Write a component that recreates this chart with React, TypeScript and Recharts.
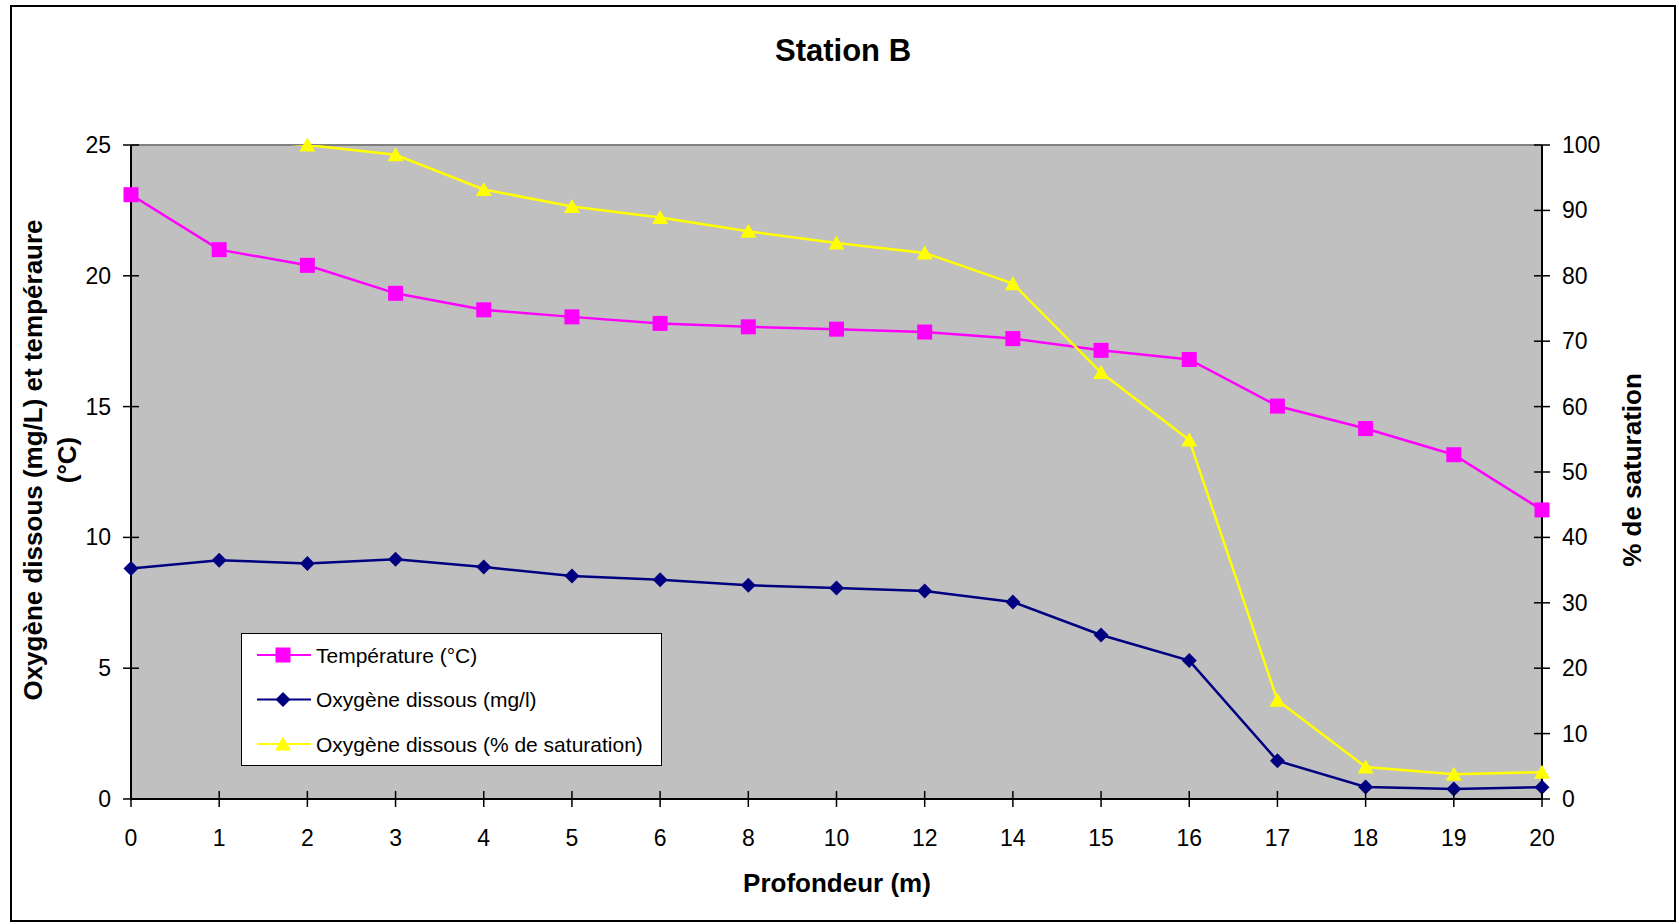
import { LineChart, Line, XAxis, YAxis, CartesianGrid, ReferenceLine, Legend } from "recharts"

const FONT = '"Liberation Sans", Arial, sans-serif'

const depths = ["0", "1", "2", "3", "4", "5", "6", "8", "10", "12", "14", "15", "16", "17", "18", "19", "20"]
const temperature = [23.1, 21.0, 20.4, 19.33, 18.7, 18.43, 18.18, 18.05, 17.96, 17.85, 17.6, 17.15, 16.8, 15.02, 14.16, 13.16, 11.05]
const oxygenMg = [8.81, 9.13, 9.0, 9.16, 8.87, 8.52, 8.38, 8.17, 8.07, 7.95, 7.53, 6.27, 5.29, 1.46, 0.46, 0.38, 0.45]
const oxygenSat = [103, 101, 100, 98.5, 93.2, 90.6, 88.9, 86.8, 85.0, 83.5, 78.8, 65.2, 54.9, 15.1, 4.9, 3.8, 4.1]

const leftTicks = [0, 5, 10, 15, 20, 25]
const rightTicks = [0, 10, 20, 30, 40, 50, 60, 70, 80, 90, 100]

const SERIES = [
  { key: "temp", name: "Température (°C)", color: "#FF00FF", marker: "square" },
  { key: "mg", name: "Oxygène dissous (mg/l)", color: "#000080", marker: "diamond" },
  { key: "sat", name: "Oxygène dissous (% de saturation)", color: "#FFFF00", marker: "triangle" },
]

const data = depths.map((depth, i) => ({
  depth,
  temp: temperature[i],
  mg: oxygenMg[i],
  sat: oxygenSat[i],
}))

const SAT_MAX = rightTicks[rightTicks.length - 1]

function Marker({ kind, cx, cy, color }: { kind: string; cx: number; cy: number; color: string }) {
  if (kind === "square") {
    return <rect x={cx - 7.5} y={cy - 7.5} width={15} height={15} fill={color} />
  }
  if (kind === "diamond") {
    return (
      <polygon
        points={`${cx},${cy - 7.5} ${cx + 7.5},${cy} ${cx},${cy + 7.5} ${cx - 7.5},${cy}`}
        fill={color}
      />
    )
  }
  return (
    <polygon
      points={`${cx},${cy - 7.5} ${cx + 8},${cy + 6.5} ${cx - 8},${cy + 6.5}`}
      fill={color}
    />
  )
}

function makeDot(kind: string, color: string, max?: number) {
  return (p: any) => {
    const key = `${kind}-${p.index}`
    if (p.cx == null || p.cy == null) return <g key={key} />
    if (max != null && p.value > max) return <g key={key} />
    return (
      <g key={key}>
        <Marker kind={kind} cx={p.cx} cy={p.cy} color={color} />
      </g>
    )
  }
}

function LeftTick(props: any) {
  const { x, y, payload } = props
  return (
    <g>
      <line x1={x - 8} x2={x + 8} y1={y} y2={y} stroke="#000" strokeWidth={1.5} />
      <text x={x - 20} y={y + 8} textAnchor="end" fontSize={23} fontFamily={FONT} fill="#000">
        {payload.value}
      </text>
    </g>
  )
}

function RightTick(props: any) {
  const { x, y, payload } = props
  return (
    <g>
      <line x1={x - 8} x2={x + 8} y1={y} y2={y} stroke="#000" strokeWidth={1.5} />
      <text x={x + 20} y={y + 8} textAnchor="start" fontSize={23} fontFamily={FONT} fill="#000">
        {payload.value}
      </text>
    </g>
  )
}

function BottomTick(props: any) {
  const { x, y, payload } = props
  return (
    <g>
      <line x1={x} x2={x} y1={y - 8} y2={y + 8} stroke="#000" strokeWidth={1.5} />
      <text x={x} y={y + 47} textAnchor="middle" fontSize={23} fontFamily={FONT} fill="#000">
        {payload.value}
      </text>
    </g>
  )
}

function LegendBox({ payload }: any) {
  const entries = SERIES.map((s) => ({
    s,
    entry: (payload || []).find((p: any) => p.dataKey === s.key),
  })).filter((e) => e.entry)
  return (
    <div
      style={{
        width: 421,
        height: 133,
        boxSizing: "border-box",
        background: "#fff",
        border: "1.5px solid #000",
      }}
    >
      <svg width={418} height={130} style={{ display: "block" }}>
        {entries.map(({ s, entry }, i) => {
          const y = 21 + i * 44.5
          return (
            <g key={s.key}>
              <line x1={15} x2={69} y1={y} y2={y} stroke={s.color} strokeWidth={2} />
              <Marker kind={s.marker} cx={41} cy={y} color={s.color} />
              <text x={74} y={y + 7.5} fontSize={21} fontFamily={FONT} fill="#000">
                {entry.value}
              </text>
            </g>
          )
        })}
      </svg>
    </div>
  )
}

export default function App() {
  return (
    <div style={{ position: "absolute", left: 0, top: 0, width: 1679, height: 924, background: "#fff" }}>
      <style>{`.recharts-line-dots { clip-path: none; }`}</style>
      <div
        style={{
          position: "absolute",
          left: 10,
          top: 5,
          width: 1666,
          height: 917,
          border: "2px solid #000",
          boxSizing: "border-box",
        }}
      />
      <div style={{ position: "absolute", left: 0, top: 0 }}>
        <LineChart width={1679} height={924} data={data} margin={{ top: 145, right: 0, bottom: 0, left: 0 }}>
          <CartesianGrid yAxisId="left" fill="#C0C0C0" vertical={false} horizontal={false} />
          <XAxis
            dataKey="depth"
            height={125}
            interval={0}
            tickSize={0}
            tickMargin={0}
            tickLine={false}
            tick={BottomTick}
            axisLine={{ stroke: "#000", strokeWidth: 2 }}
          />
          <YAxis
            yAxisId="left"
            orientation="left"
            width={131}
            domain={[0, 25]}
            ticks={leftTicks}
            tickSize={0}
            tickMargin={0}
            tickLine={false}
            tick={LeftTick}
            axisLine={{ stroke: "#000", strokeWidth: 2 }}
          />
          <YAxis
            yAxisId="right"
            orientation="right"
            width={137}
            domain={[0, SAT_MAX]}
            allowDataOverflow
            ticks={rightTicks}
            tickSize={0}
            tickMargin={0}
            tickLine={false}
            tick={RightTick}
            axisLine={{ stroke: "#000", strokeWidth: 2 }}
          />
          <ReferenceLine yAxisId="left" y={25} stroke="#808080" strokeWidth={2} />
          <Legend
            layout="horizontal"
            verticalAlign="middle"
            align="center"
            content={(props: any) => <LegendBox {...props} />}
            wrapperStyle={{ left: 241, top: 633, width: 421, height: 133 }}
          />
          <Line
            yAxisId="left"
            type="linear"
            dataKey="temp"
            name={SERIES[0].name}
            stroke={SERIES[0].color}
            strokeWidth={2.5}
            dot={makeDot("square", SERIES[0].color)}
            activeDot={false}
            isAnimationActive={false}
          />
          <Line
            yAxisId="left"
            type="linear"
            dataKey="mg"
            name={SERIES[1].name}
            stroke={SERIES[1].color}
            strokeWidth={2.5}
            dot={makeDot("diamond", SERIES[1].color)}
            activeDot={false}
            isAnimationActive={false}
          />
          <Line
            yAxisId="right"
            type="linear"
            dataKey="sat"
            name={SERIES[2].name}
            stroke={SERIES[2].color}
            strokeWidth={2.5}
            dot={makeDot("triangle", SERIES[2].color, SAT_MAX)}
            activeDot={false}
            isAnimationActive={false}
          />
        </LineChart>
      </div>
      <div
        style={{
          position: "absolute",
          left: 643,
          top: 35,
          width: 400,
          textAlign: "center",
          fontFamily: FONT,
          fontWeight: "bold",
          fontSize: 31,
          lineHeight: "31px",
        }}
      >
        Station B
      </div>
      <div
        style={{
          position: "absolute",
          left: 637,
          top: 870,
          width: 400,
          textAlign: "center",
          fontFamily: FONT,
          fontWeight: "bold",
          fontSize: 26,
          lineHeight: "26px",
        }}
      >
        Profondeur (m)
      </div>
      <div
        style={{
          position: "absolute",
          left: -300,
          top: 426,
          width: 700,
          height: 68,
          textAlign: "center",
          fontFamily: FONT,
          fontWeight: "bold",
          fontSize: 26,
          lineHeight: "34px",
          transform: "rotate(-90deg)",
        }}
      >
        Oxygène dissous (mg/L) et tempéraure
        <br />
        (°C)
      </div>
      <div
        style={{
          position: "absolute",
          left: 1432,
          top: 457,
          width: 400,
          height: 26,
          textAlign: "center",
          fontFamily: FONT,
          fontWeight: "bold",
          fontSize: 26,
          lineHeight: "26px",
          transform: "rotate(-90deg)",
        }}
      >
        % de saturation
      </div>
    </div>
  )
}
